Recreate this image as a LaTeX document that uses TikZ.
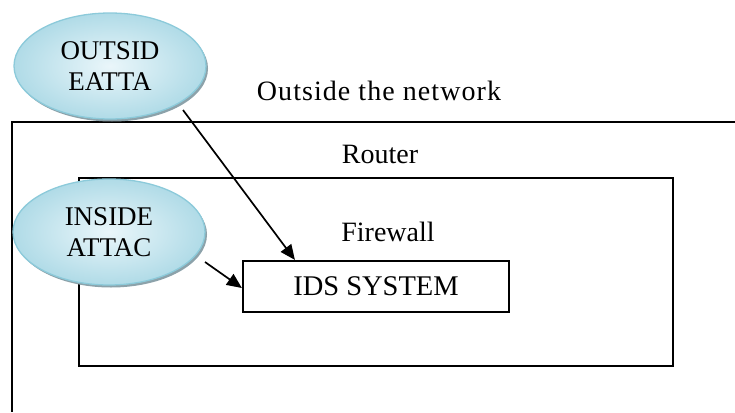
\documentclass[tikz,border=0pt]{standalone}
\usepackage{fontspec}
\setmainfont{Liberation Serif}
\usetikzlibrary{shapes.geometric,arrows.meta,calc}
\definecolor{bubbleedge}{RGB}{140,202,218}
\definecolor{bubblein}{RGB}{234,246,250}
\definecolor{bubbleout}{RGB}{176,219,231}
\definecolor{bubbleshadow}{RGB}{140,162,170}
\begin{document}
\begin{tikzpicture}[x=1pt,y=-1pt,
  bubble/.style={ellipse, minimum width=192pt, minimum height=106pt, inner sep=0pt,
    align=center, draw=bubbleedge, line width=1.3pt, shading=radial,
    inner color=bubblein, outer color=bubbleout, font=\fontsize{27}{31}\selectfont},
  bubbleshade/.style={ellipse, minimum width=192pt, minimum height=106pt,
    inner sep=0pt, fill=bubbleshadow},
  wall/.style={line width=2pt, black},
  zonelabel/.style={font=\fontsize{28}{32}\selectfont, inner sep=0pt, anchor=base},
  idsbox/.style={draw, line width=2.2pt, minimum width=266pt, minimum height=51pt,
    inner sep=0pt, font=\fontsize{28.5}{32}\selectfont},
  conn/.style={line width=1.7pt, -{Triangle[length=15pt,width=13pt]}}
]
\useasboundingbox (0,0) rectangle (735,412);

% network boundary (open to the right and bottom)
\draw[wall] (735,122) -- (12,122) -- (12,412);
% router enclosure
\draw[wall] (79,178) rectangle (673,366);

% zone labels
\node[zonelabel] (outlbl) at (379,100) {\addfontfeatures{LetterSpace=3.8}Outside the network};
\node[zonelabel] (rtrlbl) at (380,163) {Router};
\node[zonelabel] (fwlbl) at (388,241) {Firewall};

% attacker bubbles with their drop shadows
\node[bubbleshade] at (112,68.5) {};
\node[bubble] (oe) at (110,66) {OUTSID\\EATTA};
\node[bubbleshade] at (111,234.5) {};
\node[bubble] (ie) at (109,232) {INSIDE\\ATTAC};

% detection system
\node[idsbox] (ids) at (376,286.5) {IDS SYSTEM};

% attack paths
\draw[conn] ($(oe.center)+(73,44)$) -- ($(ids.north west)+(53,0)$);
\draw[conn] ($(ie.center)+(96,30)$) -- ($(ids.west)+(0,1.5)$);
\end{tikzpicture}
\end{document}
